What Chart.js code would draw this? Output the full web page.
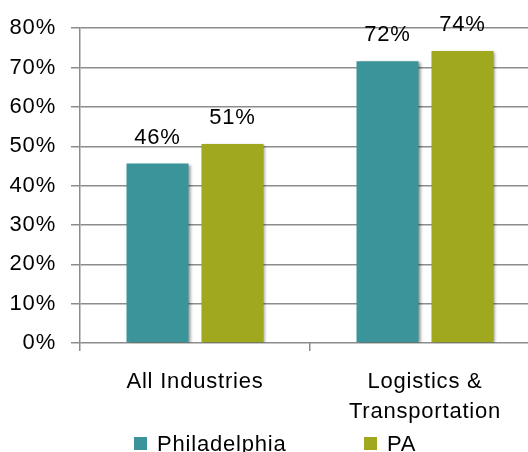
<!DOCTYPE html>
<html>
<head>
<meta charset="utf-8">
<script src="https://cdn.jsdelivr.net/npm/chart.js@4"></script>
<style>
  html, body { margin:0; padding:0; background:#fff; overflow:hidden; }
  #box { width:545px; height:452px; }
</style>
</head>
<body>
<div id="box"><canvas id="grafico"></canvas></div>
<script>
// ===============================
// DADOS
// ===============================
const categorias = ["All Industries", ["Logistics &", "Transportation"]];
const seriePhiladelphia = [45.6, 71.6];
const seriePA = [50.6, 74.2];
const nomesSeries = ["Philadelphia", "PA"];
const coresSeries = ["#3a9499", "#a0a81e"];
const ticksY = [0, 10, 20, 30, 40, 50, 60, 70, 80];

const FONTE = "'Liberation Sans', Arial, sans-serif";
const COR_LINHA = "#8c8c8c";


// ===============================
// ESPAÇAMENTO DO TEXTO
// ===============================
const espacoLetras = {
  id: "espacoLetras",
  beforeInit(chart){ chart.ctx.letterSpacing = "0.8px"; },
  beforeDraw(chart){ chart.ctx.letterSpacing = "0.8px"; }
};


// ===============================
// SOMBRA DAS BARRAS
// ===============================
const sombraBarras = {
  id: "sombraBarras",
  beforeDatasetsDraw(chart){
    const ctx = chart.ctx;
    ctx.save();
    ctx.shadowColor = "rgba(0,0,0,0.45)";
    ctx.shadowBlur = 3;
    ctx.shadowOffsetX = 2;
    ctx.shadowOffsetY = 1;
  },
  afterDatasetsDraw(chart){
    chart.ctx.restore();
  }
};


// ===============================
// RÓTULOS DE VALOR
// ===============================
const rotulosValor = {
  id: "rotulosValor",
  afterDatasetsDraw(chart){
    const ctx = chart.ctx;
    ctx.save();
    ctx.font = "22px " + FONTE;
    ctx.fillStyle = "#000";
    ctx.textAlign = "center";
    ctx.textBaseline = "middle";
    chart.data.datasets.forEach((ds, i) => {
      chart.getDatasetMeta(i).data.forEach((bar, j) => {
        ctx.fillText(Math.round(ds.data[j]) + "%", bar.x, bar.y - 26);
      });
    });
    ctx.restore();
  }
};


// ===============================
// LEGENDA
// ===============================
const legendaBaixo = {
  id: "legendaBaixo",
  afterDraw(chart){
    const ctx = chart.ctx;
    const x = chart.scales.x;
    ctx.save();
    ctx.font = "22px " + FONTE;
    ctx.textBaseline = "middle";
    ctx.textAlign = "left";
    chart.data.datasets.forEach((ds, i) => {
      const inicio = x.getPixelForValue(i) - 61;
      ctx.fillStyle = ds.backgroundColor;
      ctx.fillRect(inicio, 437, 13, 13);
      ctx.fillStyle = "#000";
      ctx.fillText(ds.label, inicio + 23, 445);
    });
    ctx.restore();
  }
};


// ===============================
// GRÁFICO
// ===============================
new Chart(document.getElementById("grafico"), {
  type: "bar",
  data: {
    labels: categorias,
    datasets: [
      { label: nomesSeries[0], data: seriePhiladelphia, backgroundColor: coresSeries[0] },
      { label: nomesSeries[1], data: seriePA, backgroundColor: coresSeries[1] }
    ]
  },
  options: {
    responsive: true,
    maintainAspectRatio: false,
    animation: false,
    events: [],
    categoryPercentage: 0.652,
    barPercentage: 0.827,
    layout: { padding: { left: 0, right: 5, top: 26, bottom: 0 } },
    plugins: {
      legend: { display: false },
      tooltip: { enabled: false }
    },
    scales: {
      x: {
        offset: true,
        afterFit: s => { s.height = 109; },
        grid: { display: true, drawOnChartArea: false, offset: true, tickLength: 8, color: COR_LINHA, lineWidth: 1.5 },
        border: { display: false },
        ticks: { color: "#000", padding: 16, font: { family: FONTE, size: 22, lineHeight: 30/22 } }
      },
      y: {
        min: 0,
        max: 80,
        afterFit: s => { s.width = 80; },
        afterBuildTicks: s => { s.ticks = ticksY.map(v => ({ value: v })); },
        grid: { color: COR_LINHA, lineWidth: 1.5, tickLength: 9 },
        border: { color: COR_LINHA, width: 1.5 },
        ticks: {
          color: "#000",
          padding: 15,
          font: { family: FONTE, size: 22 },
          callback: v => v + "%"
        }
      }
    }
  },
  plugins: [espacoLetras, sombraBarras, rotulosValor, legendaBaixo]
});
</script>
</body>
</html>
